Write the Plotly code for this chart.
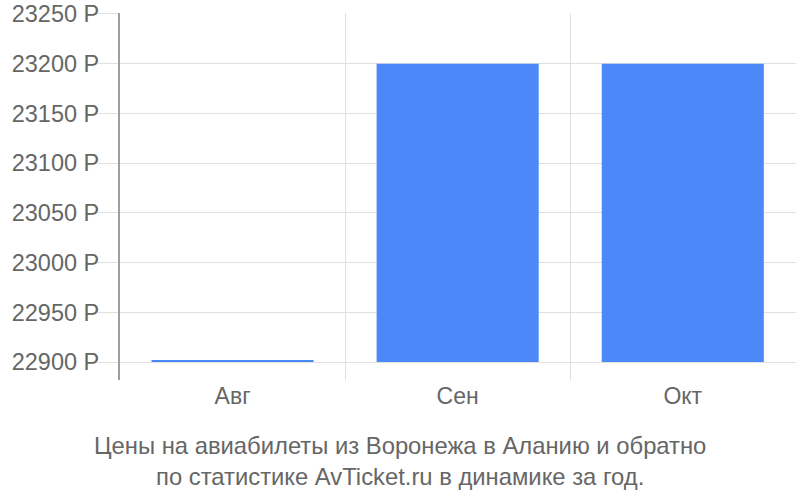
import plotly.graph_objects as go

months = ["Авг", "Сен", "Окт"]
prices = [22902, 23200, 23200]
y_ticks = [22900, 22950, 23000, 23050, 23100, 23150, 23200, 23250]
y_tick_labels = [f"{v} Р" for v in y_ticks]
base_value = 22900
title_lines = ["Цены на авиабилеты из Воронежа в Аланию и обратно",
               "по статистике AvTicket.ru в динамике за год."]

fig = go.Figure()
fig.add_trace(go.Bar(
    x=months,
    y=[p - base_value for p in prices],
    base=base_value,
    marker=dict(color="#4d88f9", line=dict(width=0)),
    hoverinfo="skip",
))

fig.update_layout(
    width=800, height=500,
    margin=dict(l=120, r=4, t=13, b=120, autoexpand=False),
    plot_bgcolor="white", paper_bgcolor="white",
    bargap=0.28,
    showlegend=False,
    font=dict(family="Liberation Sans, Arial, sans-serif", color="#666666"),
    xaxis=dict(
        range=[-0.5, 2.503],
        tickson="boundaries", automargin=False,
        showgrid=True, gridcolor="#e0e0e0", gridwidth=1,
        ticks="", showline=False, zeroline=False,
        tickfont=dict(size=23, color="#666666"),
    ),
    yaxis=dict(
        range=[base_value - 18.1, 23251], automargin=False,
        tickvals=y_ticks, ticktext=y_tick_labels,
        showgrid=True, gridcolor="#e0e0e0", gridwidth=1,
        ticks="outside", ticklen=20, tickcolor="#e0e0e0", tickwidth=1,
        ticklabelstandoff=-6, ticklabeloverflow="allow",
        showline=True, linecolor="#9e9e9e", linewidth=2,
        zeroline=False,
        tickfont=dict(size=23.5, color="#666666"),
    ),
    annotations=[dict(
        text="<br>".join(title_lines),
        xref="paper", yref="paper",
        x=(400 - 120) / 676, y=-(430 - 380) / 367,
        xanchor="center", yanchor="top", showarrow=False,
        font=dict(size=23.8, color="#666666"),
        align="center",
    )],
)

fig.write_html(
    "out.html",
    config={"displayModeBar": False, "staticPlot": True},
    post_script="document.body.style.margin='0';document.body.style.overflow='hidden';",
)
